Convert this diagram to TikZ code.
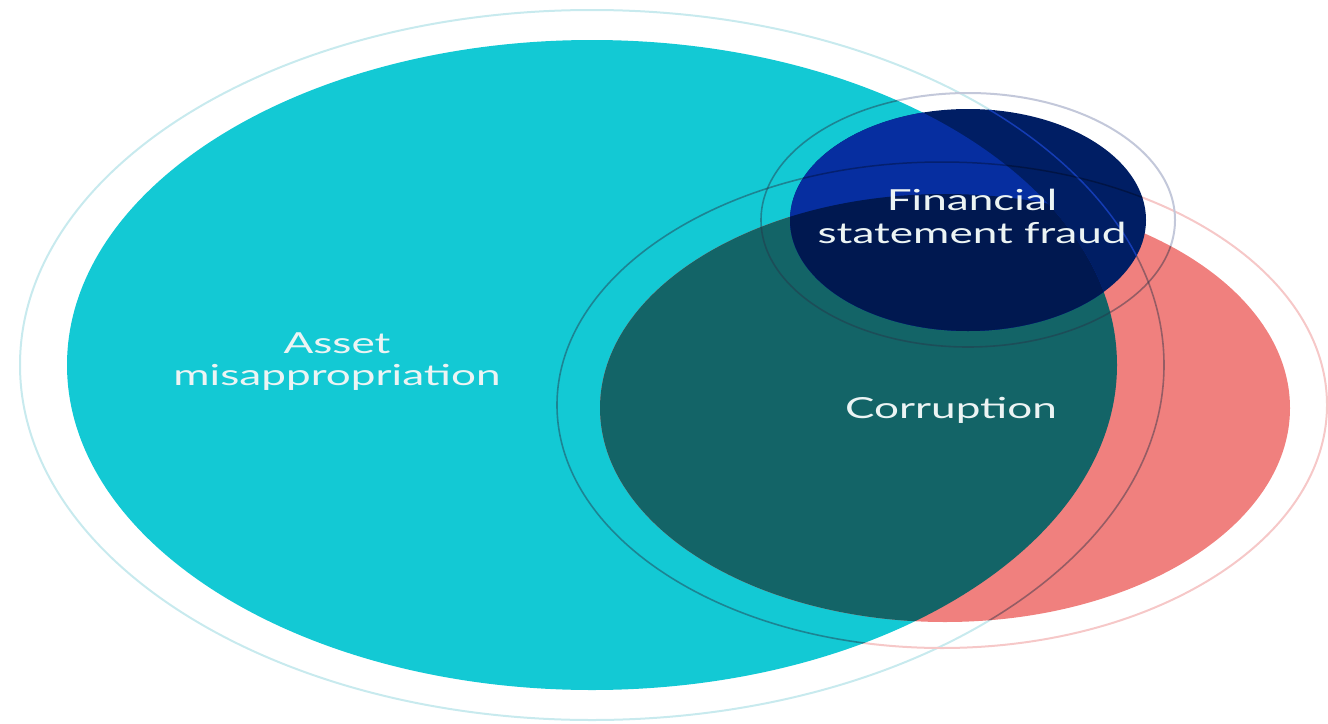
\documentclass[tikz,border=0pt]{standalone}
\usepackage{fontspec}
\setmainfont{Lato}
\usepackage{graphicx}
\definecolor{cyanA}{RGB}{19,201,212}
\definecolor{redA}{RGB}{240,128,126}
\definecolor{tealA}{RGB}{19,100,103}
\definecolor{navyA}{RGB}{0,30,100}
\definecolor{navyB}{RGB}{6,46,160}
\definecolor{navyC}{RGB}{0,24,80}
\definecolor{ringC}{RGB}{200,234,238}
\definecolor{ringR}{RGB}{246,200,200}
\definecolor{ringN}{RGB}{195,200,218}
\definecolor{ringD}{RGB}{40,50,70}
\definecolor{ringB}{RGB}{20,60,180}
\definecolor{txt}{RGB}{236,244,244}
\newcommand{\xw}[1]{\scalebox{1.52}[1]{#1}}
\def\Cpath{(592,365) ellipse [x radius=525pt, y radius=325pt]}
\def\Rpath{(945,408) ellipse [x radius=345pt, y radius=214pt]}
\def\Npath{(968,220) ellipse [x radius=178pt, y radius=111pt]}
\def\CRing{(592,365) ellipse [x radius=572pt, y radius=355pt]}
\def\RRing{(942,405) ellipse [x radius=385pt, y radius=243pt]}
\def\NRing{(968,220) ellipse [x radius=207pt, y radius=127pt]}
\begin{document}
\begin{tikzpicture}[x=1pt,y=-1pt,
  lbl/.style={text=txt, font=\fontsize{29}{32}\selectfont, align=center, inner sep=0pt},
  ring/.style={line width=2pt},
  darkring/.style={line width=1.6pt, draw=ringD, draw opacity=0.45}]
\useasboundingbox (0,0) rectangle (1328,723);
% pale outer rings (seen over white)
\draw[ring, draw=ringC] \CRing;
\draw[ring, draw=ringR] \RRing;
\draw[ring, draw=ringN] \NRing;
% main fills
\fill[cyanA] \Cpath;
\fill[redA] \Rpath;
\begin{scope}
  \clip \Cpath;
  \fill[tealA] \Rpath;
\end{scope}
% rings over coloured areas
\begin{scope}
  \clip \Cpath \Rpath;
  \draw[darkring] \CRing;
  \draw[darkring] \RRing;
  \draw[darkring] \NRing;
\end{scope}
% financial statement fraud
\fill[navyA] \Npath;
\begin{scope}
  \clip \Npath;
  \fill[navyB] \Cpath;
  \begin{scope}
    \clip \Cpath;
    \fill[navyC] \Rpath;
  \end{scope}
  \draw[line width=1.5pt, draw=ringB] \CRing;
  \draw[line width=1.5pt, draw=black, draw opacity=0.3] \RRing;
\end{scope}
% labels
\node[lbl, anchor=north] (asset) at (337,333) {\xw{Asset}\\\xw{misappropriation}};
\node[lbl, anchor=base] (corr) at (951,418) {\xw{Corruption}};
\node[lbl, anchor=north, font=\fontsize{29}{33}\selectfont] (fsf) at (972,189) {\xw{Financial}\\\xw{statement fraud}};
\end{tikzpicture}
\end{document}
